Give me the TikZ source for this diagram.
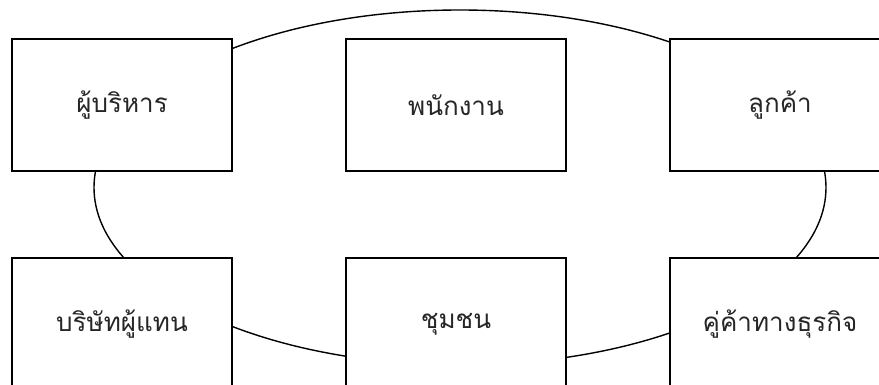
\documentclass[tikz,border=0pt]{standalone}
\usepackage{fontspec}
\newfontfamily\thaifont[Script=Thai]{Loma}
\tikzset{
  stake/.style={draw=black, fill=white, line width=1.7pt, minimum width=220.5pt, minimum height=132.5pt, inner sep=0pt, font=\thaifont\fontsize{26}{30}\selectfont, text=black!85},
  ring/.style={draw=black, line width=1.4pt}
}
\begin{document}
\begin{tikzpicture}[x=1pt,y=-1pt]
\useasboundingbox (0,0) rectangle (879,385);
\clip (0,0) rectangle (879,385);
\fill[white] (0,0) rectangle (879,385);
\coordinate (c) at (460,187.5);
\draw[ring] (c) ellipse [x radius=366, y radius=177.5];
\node[stake] (exec) at (122,105) {\raisebox{-3pt}{ผู้บริหาร}};
\node[stake] (staff) at (456,105) {\raisebox{-3pt}{พนักงาน}};
\node[stake] (cust) at (780,105) {\raisebox{-3pt}{ลูกค้า}};
\node[stake] (agent) at (122,324) {\raisebox{-3pt}{บริษัทผู้แทน}};
\node[stake] (comm) at (456,324) {\raisebox{-3pt}{ชุมชน}};
\node[stake] (partner) at (780,324) {\raisebox{-3pt}{คู่ค้าทางธุรกิจ}};
\end{tikzpicture}
\end{document}
